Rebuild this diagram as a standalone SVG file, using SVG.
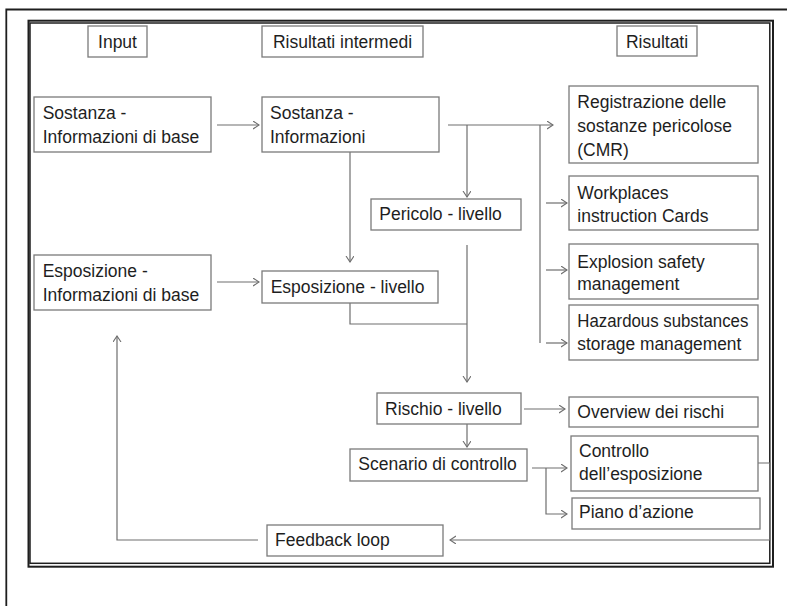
<svg xmlns="http://www.w3.org/2000/svg" width="787" height="606" viewBox="0 0 787 606">
<style>
.box{fill:#fff;stroke:#7a7a7a;stroke-width:1.3}
.t{font-family:"Liberation Sans",Arial,sans-serif;font-size:17.5px;fill:#1e1e1e}
.c{fill:none;stroke:#6e6e6e;stroke-width:1.2}
.frame{fill:none;stroke:#1e1e1e}
</style>
<defs>
<marker id="ah" markerUnits="userSpaceOnUse" markerWidth="10" markerHeight="10" refX="6" refY="4" orient="auto">
<path d="M0,0 L6,4 L0,8" fill="none" stroke="#6e6e6e" stroke-width="1.1"/>
</marker>
</defs>
<rect width="787" height="606" fill="#fff"/>
<path class="frame" d="M6.3,606 V9.5 H787" stroke-width="1.8" stroke="#3a3a3a"/>
<rect class="frame" x="28.5" y="20.7" width="744.5" height="546" stroke-width="2"/>
<rect class="frame" x="30" y="23" width="739.8" height="540.3" stroke-width="1.5"/>

<g id="connectors">
<path class="c" d="M217,125 H259" marker-end="url(#ah)"/>
<path class="c" d="M448,125 H553" marker-end="url(#ah)"/>
<path class="c" d="M467,125 V197" marker-end="url(#ah)"/>
<path class="c" d="M540,125 V343"/>
<path class="c" d="M546,203 H567" marker-end="url(#ah)"/>
<path class="c" d="M546,270 H567" marker-end="url(#ah)"/>
<path class="c" d="M546,343 H567" marker-end="url(#ah)"/>
<path class="c" d="M350,152 V262" marker-end="url(#ah)"/>
<path class="c" d="M217,282 H259" marker-end="url(#ah)"/>
<path class="c" d="M350,303 V324 H467"/>
<path class="c" d="M467,245 V382" marker-end="url(#ah)"/>
<path class="c" d="M524,409 H565" marker-end="url(#ah)"/>
<path class="c" d="M467,424 V447" marker-end="url(#ah)"/>
<path class="c" d="M532,468 H567" marker-end="url(#ah)"/>
<path class="c" d="M546,468 V514 H567" marker-end="url(#ah)"/>
<path class="c" d="M758,463 H769.8 V540 H450" marker-end="url(#ah)"/>
<path class="c" d="M258,540 H117 V336" marker-end="url(#ah)"/>
</g>

<g id="h-input"><rect class="box" x="88" y="26" width="59" height="31"/><text class="t" x="117.5" y="47.5" text-anchor="middle">Input</text></g>
<g id="h-intermedi"><rect class="box" x="262" y="26" width="161" height="31"/><text class="t" x="342.5" y="47.5" text-anchor="middle">Risultati intermedi</text></g>
<g id="h-risultati"><rect class="box" x="617" y="26" width="80" height="30"/><text class="t" x="657" y="47.5" text-anchor="middle">Risultati</text></g>

<g id="n-sost-base"><rect class="box" x="34" y="97" width="177" height="55"/><text class="t" x="42.7" y="119">Sostanza -</text><text class="t" x="42.7" y="142.5">Informazioni di base</text></g>
<g id="n-sost-info"><rect class="box" x="262" y="97" width="177" height="55"/><text class="t" x="270" y="119">Sostanza -</text><text class="t" x="270" y="142.5">Informazioni</text></g>
<g id="n-pericolo"><rect class="box" x="371" y="199" width="150" height="31"/><text class="t" x="379.3" y="220">Pericolo - livello</text></g>
<g id="n-esp-base"><rect class="box" x="34" y="255" width="177" height="55"/><text class="t" x="42.7" y="277.3">Esposizione -</text><text class="t" x="42.7" y="300.7">Informazioni di base</text></g>
<g id="n-esp-livello"><rect class="box" x="262" y="271" width="176" height="32"/><text class="t" x="270.7" y="293.3">Esposizione - livello</text></g>
<g id="n-rischio"><rect class="box" x="377" y="393" width="144" height="31"/><text class="t" x="385" y="415">Rischio - livello</text></g>
<g id="n-scenario"><rect class="box" x="350" y="449" width="177" height="32"/><text class="t" x="358.3" y="470">Scenario di controllo</text></g>
<g id="n-feedback"><rect class="box" x="267" y="525" width="176" height="31"/><text class="t" x="275" y="546">Feedback loop</text></g>

<g id="r-registrazione"><rect class="box" x="569" y="86" width="189" height="77"/><text class="t" x="577.3" y="107.7">Registrazione delle</text><text class="t" x="577.3" y="131.7">sostanze pericolose</text><text class="t" x="577.3" y="155.7">(CMR)</text></g>
<g id="r-workplaces"><rect class="box" x="569" y="176" width="189" height="54"/><text class="t" x="577.3" y="198.5">Workplaces</text><text class="t" x="577.3" y="222">instruction Cards</text></g>
<g id="r-explosion"><rect class="box" x="569" y="244" width="189" height="55"/><text class="t" x="577.3" y="267.7">Explosion safety</text><text class="t" x="577.3" y="290">management</text></g>
<g id="r-hazardous"><rect class="box" x="569" y="305" width="189" height="55"/><text class="t" x="577.3" y="327.3" textLength="171" lengthAdjust="spacingAndGlyphs">Hazardous substances</text><text class="t" x="577.3" y="350" textLength="164" lengthAdjust="spacingAndGlyphs">storage management</text></g>
<g id="r-overview"><rect class="box" x="569" y="397" width="189" height="30"/><text class="t" x="577.3" y="417.7">Overview dei rischi</text></g>
<g id="r-controllo"><rect class="box" x="571" y="436" width="187" height="55"/><text class="t" x="579" y="457.3">Controllo</text><text class="t" x="579" y="480">dell’esposizione</text></g>
<g id="r-piano"><rect class="box" x="572" y="498" width="188" height="31"/><text class="t" x="579" y="518.3">Piano d’azione</text></g>
</svg>
